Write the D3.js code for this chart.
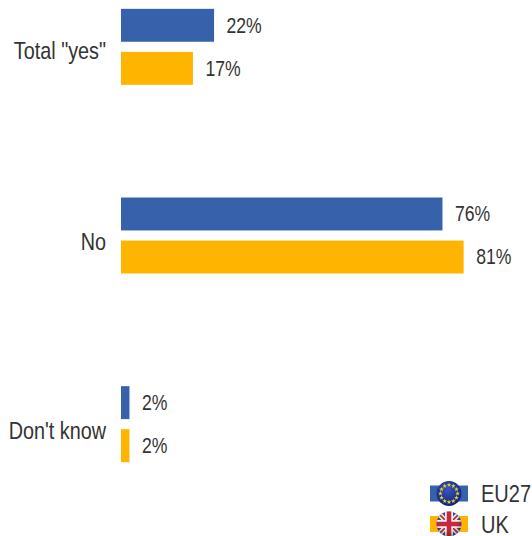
<!DOCTYPE html>
<html>
<head>
<meta charset="utf-8">
<script src="https://cdn.jsdelivr.net/npm/d3@7"></script>
<style>
html,body{margin:0;padding:0;background:#fff;}
svg{display:block;}
text{font-family:"Liberation Sans",Arial,sans-serif;fill:#333;}
</style>
</head>
<body>
<div id="chart"></div>
<script>
const categories = ['Total "yes"', 'No', "Don't know"];
const seriesNames = ["EU27", "UK"];
const seriesColors = ["#3762ab", "#ffb400"];
const eu27Values = [22, 76, 2];
const ukValues = [17, 81, 2];

const width = 532, height = 536;

const svg = d3.select("#chart").append("svg")
  .attr("width", width).attr("height", height);

const x = d3.scaleLinear().domain([0, 100]).range([121, 544]);
const y = d3.scaleBand().domain(categories).range([-47.5, 518.5]).paddingInner(0).paddingOuter(0);
const inner = d3.scaleBand().domain(seriesNames).range([0, 76]).paddingInner(0.235);
const groupTop = c => y(c) + (y.bandwidth() - 76) / 2;

// Condensed label: positioned with a translate, then squeezed horizontally
function label(px, py, anchor, str, size, squeeze) {
  svg.append("text")
    .attr("transform", `translate(${px},${py}) scale(${squeeze},1)`)
    .attr("text-anchor", anchor)
    .attr("dy", "0.35em")
    .attr("font-size", size)
    .text(str);
}

const series = [eu27Values, ukValues];
seriesNames.forEach((name, s) => {
  const g = svg.append("g");
  g.selectAll("rect").data(categories).join("rect")
    .attr("x", x(0))
    .attr("y", c => groupTop(c) + inner(name))
    .attr("width", (c, i) => x(series[s][i]) - x(0))
    .attr("height", inner.bandwidth())
    .attr("fill", seriesColors[s]);
  categories.forEach((c, i) => {
    label(x(series[s][i]) + 12.5, groupTop(c) + inner(name) + inner.bandwidth() / 2 - 0.5,
      "start", series[s][i] + "%", 22, 0.8);
  });
});

// The first category sits a little higher than the other two
categories.forEach((c, i) => {
  label(106, y(c) + y.bandwidth() / 2 + (i === 0 ? 4 : 6), "end", c, 24, 0.825);
});

// Legend: colour swatch with a round flag badge on top
const defs = svg.append("defs");
const legendRows = [493.5, 524];

const euGrad = defs.append("radialGradient").attr("id", "euBall")
  .attr("cx", "45%").attr("cy", "35%").attr("r", "70%");
euGrad.append("stop").attr("offset", "0%").attr("stop-color", "#3a56b8");
euGrad.append("stop").attr("offset", "100%").attr("stop-color", "#0c1f70");

const ukGrad = defs.append("radialGradient").attr("id", "ukShade")
  .attr("cx", "45%").attr("cy", "35%").attr("r", "70%");
ukGrad.append("stop").attr("offset", "55%").attr("stop-color", "#000").attr("stop-opacity", 0);
ukGrad.append("stop").attr("offset", "100%").attr("stop-color", "#000").attr("stop-opacity", 0.35);

defs.append("clipPath").attr("id", "ukClip")
  .append("circle").attr("r", 12.5);

seriesNames.forEach((name, s) => {
  svg.append("g").attr("transform", `translate(449,${legendRows[s]})`)
    .append("rect").attr("x", -19).attr("y", -8).attr("width", 38).attr("height", 16)
    .attr("fill", seriesColors[s]);
  label(481, legendRows[s] + 0.5, "start", name, 23, 0.87);
});

// EU badge
const eu = svg.append("g").attr("transform", `translate(449,${legendRows[0]})`);
eu.append("circle").attr("r", 12.5).attr("fill", "url(#euBall)");
const star = d3.symbol().type(d3.symbolStar).size(7);
eu.selectAll("path").data(d3.range(12)).join("path")
  .attr("d", star)
  .attr("fill", "#e8d040")
  .attr("transform", i => {
    const a = i / 12 * 2 * Math.PI;
    return `translate(${8.6 * Math.cos(a)},${8.6 * Math.sin(a)})`;
  });

// UK badge
const uk = svg.append("g").attr("transform", `translate(449,${legendRows[1]})`)
  .attr("clip-path", "url(#ukClip)");
uk.append("rect").attr("x", -13).attr("y", -13).attr("width", 26).attr("height", 26).attr("fill", "#3a4a8c");
const cross = (x1, y1, x2, y2, color, w) =>
  uk.append("line").attr("x1", x1).attr("y1", y1).attr("x2", x2).attr("y2", y2)
    .attr("stroke", color).attr("stroke-width", w);
cross(-13, -13, 13, 13, "#eee", 5);
cross(-13, 13, 13, -13, "#eee", 5);
cross(-13, -13, 13, 13, "#c8283c", 1.8);
cross(-13, 13, 13, -13, "#c8283c", 1.8);
cross(0, -13, 0, 13, "#eee", 8);
cross(-13, 0, 13, 0, "#eee", 8);
cross(0, -13, 0, 13, "#c8283c", 4.5);
cross(-13, 0, 13, 0, "#c8283c", 4.5);
uk.append("circle").attr("r", 12.5).attr("fill", "url(#ukShade)");
</script>
</body>
</html>
